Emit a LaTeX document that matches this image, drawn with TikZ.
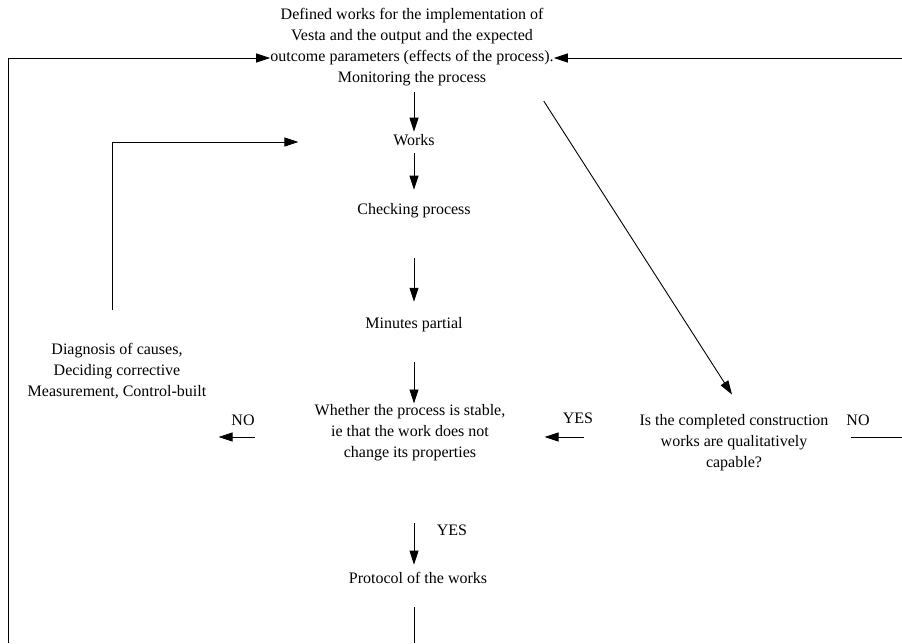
\documentclass[tikz,border=0pt]{standalone}
\usepackage{fontspec}
\setmainfont{Liberation Serif}
\usetikzlibrary{arrows.meta,calc}

\begin{document}
\begin{tikzpicture}[x=1pt,y=-1pt,
	lbl/.style={align=center,inner sep=0pt,font=\fontsize{16}{21}\selectfont},
	arr/.style={-{Triangle[length=14pt,width=9pt]},line width=0.9pt},
	ln/.style={line width=0.9pt}]
				\useasboundingbox (0,0) rectangle (902,643);
				
				\node[lbl] (goal) at (412,47) {Defined works for the implementation of\\Vesta and the output and the expected\\outcome parameters (effects of the process).\\Monitoring the process};
				\node[lbl] (works) at (414,140) {Works};
				\node[lbl] (check) at (414,211) {Checking process};
				\node[lbl] (minutes) at (414,325) {Minutes partial};
				\node[lbl] (stable) at (410,433) {Whether the process is stable,\\ie that the work does not\\change its properties};
				\node[lbl] (protocol) at (418,578) {Protocol of the works};
				\node[lbl] (diag) at (117,371) {Diagnosis of causes,\\Deciding corrective\\Measurement, Control-built};
				\node[lbl] (capable) at (734,443) {Is the completed construction\\works are qualitatively\\capable?};
				\node[lbl] (noleft) at (243,420) {NO};
				\node[lbl] (yesright) at (578,418) {YES};
				\node[lbl] (yesdown) at (452,530) {YES};
				\node[lbl] (noright) at (858,420) {NO};
				
				\coordinate (lbot) at (8,643);
				\coordinate (pbot) at (414,643);
				\coordinate (rtop) at (902,58);
				\coordinate (rno) at (902,437);
				
				\draw[arr,shorten <=6pt,shorten >=2.5pt] (works.north |- goal.south) -- (works.north);
				\draw[arr,shorten <=7.5pt,shorten >=13.8pt] (works.south) -- (works.south |- check.north);
				\draw[arr,shorten <=39.8pt,shorten >=15.8pt] (works.south |- check.south) -- (works.south |- minutes.north);
				\draw[arr,shorten <=29.8pt,shorten >=1pt] (works.south |- minutes.south) -- (works.south |- stable.north);
				\draw[arr,shorten <=61.8pt,shorten >=7.5pt] (works.south |- stable.south) -- (works.south |- protocol.north);
				\draw[ln,shorten <=23.5pt] (works.south |- protocol.south) -- (pbot);
				
				\draw[arr,shorten <=32.8pt,shorten >=94.7pt] (diag.north -| 112,0) |- (works.west |- 0,142);
				\draw[arr,shorten <=60pt,shorten >=12pt] (stable.west |- 0,437) -- (diag.east |- 0,437);
				\draw[arr,shorten <=55pt,shorten >=39pt] (capable.west |- 0,437) -- (stable.east |- 0,437);
				\draw[ln,shorten <=22pt] (capable.east |- 0,437) -- (rno);
				\draw[arr] ($(goal.south east)+(-10,15)$) -- ($(capable.north)+(-2,-20)$);
				
				\draw[arr] (lbot) |- (goal.west |- 0,58);
				\draw[arr] (rtop) -- (goal.east |- 0,58);
			\end{tikzpicture}
\end{document}
